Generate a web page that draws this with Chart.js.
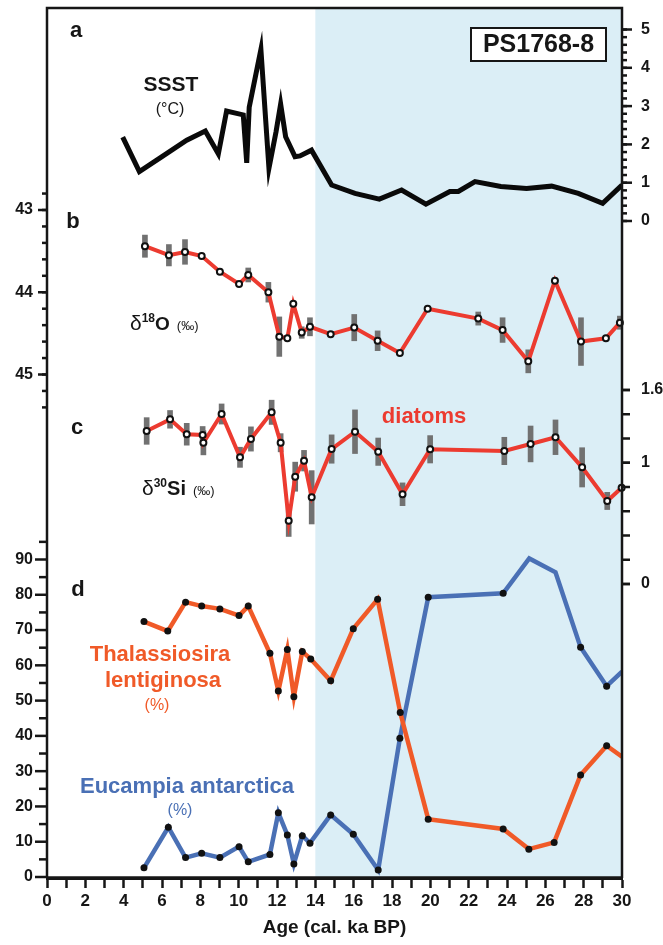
<!DOCTYPE html>
<html>
<head>
<meta charset="utf-8">
<script src="https://cdn.jsdelivr.net/npm/chart.js@4.4.1/dist/chart.umd.min.js"></script>
<style>
html,body{margin:0;padding:0;background:#fff;}
#wrap{width:663px;height:945px;position:relative;}
</style>
</head>
<body>
<div id="wrap"><canvas id="c" width="663" height="945"></canvas></div>
<script>
// ---------------- DATA ----------------
// x axis: Age (cal. ka BP)
const xTickValues = [0,2,4,6,8,10,12,14,16,18,20,22,24,26,28,30];

// a: SSST (°C)
const ssstAge = [3.95,4.82,6.0,7.29,8.26,8.94,9.37,10.24,10.42,10.55,11.16,11.58,11.95,12.19,12.45,12.94,13.2,13.8,14.85,16.07,17.34,18.5,19.77,21.02,21.46,22.33,23.68,25.02,26.33,27.72,28.99,30];
const ssstVal = [2.19,1.29,1.68,2.11,2.35,1.75,2.87,2.77,1.52,2.97,4.48,1.38,2.33,3.05,2.20,1.68,1.70,1.85,0.94,0.72,0.57,0.81,0.44,0.77,0.77,1.03,0.90,0.85,0.91,0.72,0.46,0.94];
const ssstTickLabels = [0,1,2,3,4,5];

// b: δ18O (‰)
const o18Age = [5.11,6.36,7.2,8.07,9.02,10.02,10.5,11.55,12.12,12.54,12.85,13.29,13.72,14.8,16.03,17.25,18.41,19.86,22.5,23.77,25.11,26.5,27.86,29.16,29.89];
const o18Val = [43.44,43.55,43.51,43.56,43.75,43.90,43.79,44.00,44.54,44.56,44.14,44.49,44.42,44.51,44.43,44.59,44.74,44.20,44.32,44.46,44.84,43.86,44.60,44.56,44.37];
const o18Err = [0.135,0.13,0.15,0,0,0,0.085,0.12,0.24,0,0,0.07,0.11,0,0.16,0.12,0,0,0.08,0.15,0.14,0,0.29,0,0.08];
const o18TickLabels = [43,44,45];

// c: δ30Si (‰) diatoms
const si30Age = [5.2,6.42,7.29,8.12,8.16,9.11,10.07,10.64,11.72,12.19,12.61,12.95,13.41,13.81,14.85,16.07,17.28,18.55,19.99,23.86,25.23,26.53,27.92,29.23,29.98];
const si30Val = [1.262,1.358,1.235,1.229,1.165,1.402,1.045,1.196,1.416,1.165,0.522,0.885,1.017,0.715,1.113,1.256,1.091,0.740,1.111,1.097,1.155,1.210,0.962,0.685,0.794];
const si30Err = [0.11,0.073,0.09,0.07,0.1,0.083,0.083,0.1,0.1,0.075,0.13,0.12,0.085,0.22,0.117,0.18,0.113,0.094,0.113,0.113,0.148,0.143,0.162,0.071,0];
const si30TickLabels = [0,1,1.6];

// d: Thalassiosira lentiginosa (%)
const thalAge = [5.06,6.3,7.23,8.07,9.02,10.02,10.5,11.63,12.07,12.54,12.88,13.32,13.76,14.8,15.98,17.25,18.43,19.89,23.8,25.14,26.46,27.84,29.2,30];
const thalVal = [72.4,69.7,77.9,76.8,76.0,74.1,76.8,63.4,52.7,64.5,51.1,63.9,61.8,55.6,70.4,78.7,46.6,16.4,13.6,7.9,9.8,28.9,37.2,34.1];
// d: Eucampia antarctica (%)
const eucAge = [5.06,6.33,7.23,8.07,9.02,10.02,10.5,11.63,12.07,12.54,12.88,13.32,13.72,14.8,15.98,17.28,18.41,19.89,23.8,25.16,26.53,27.84,29.2,30];
const eucVal = [2.6,14.1,5.5,6.7,5.5,8.6,4.3,6.4,18.2,11.9,3.7,11.7,9.6,17.6,12.1,2,39.3,79.3,80.4,90.3,86.4,65.1,54.1,58.2];
const pctTickLabels = [0,10,20,30,40,50,60,70,80,90];

// shaded interval (ka)
const shadeFrom = 14, shadeTo = 30;

// ---------------- STYLE / LAYOUT ----------------
const FONT = '"Liberation Sans", Arial, Helvetica, sans-serif';
const INK = '#161616';
const RED = '#ec3b30';
const THAL = '#f05a28';
const EUC = '#4a70b5';
const GREY = '#717171';
const SHADE = '#dbeef6';
const AREA_TOP = 8, AREA_BOTTOM = 878;

function fitRange(vA, pA, vB, pB) {
  const k = (vB - vA) / (pB - pA);
  const top = vA + (AREA_TOP - pA) * k;
  const bottom = vA + (AREA_BOTTOM - pA) * k;
  return top > bottom ? {min: bottom, max: top, reverse: false} : {min: top, max: bottom, reverse: true};
}
const rSSST = fitRange(0, 221, 5, 29.5);
const rO = fitRange(43, 210, 45, 374.5);
const rSi = fitRange(0, 584, 1.6, 390);
const rD = fitRange(0, 877, 90, 559.5);

function pts(xs, ys) { return xs.map((x, i) => ({x: x, y: ys[i]})); }
function bars(xs, ys, es) {
  const out = [];
  xs.forEach((x, i) => { if (es[i] > 0) out.push({x: x, y: [ys[i] - es[i], ys[i] + es[i]]}); });
  return out;
}
const thalNoMarker = [thalAge.length - 1];
const eucNoMarker = [19, 20, eucAge.length - 1];

const datasets = [
  // markers on top
  {type:'line', label:'δ18O', yAxisID:'yO', data:pts(o18Age,o18Val), showLine:true, borderColor:RED, borderWidth:4,
   pointRadius:3, pointBorderWidth:2, pointBorderColor:'#111', pointBackgroundColor:'#fff', order:1, clip:false},
  {type:'line', label:'δ30Si', yAxisID:'ySi', data:pts(si30Age,si30Val), showLine:true, borderColor:RED, borderWidth:4,
   pointRadius:3, pointBorderWidth:2, pointBorderColor:'#111', pointBackgroundColor:'#fff', order:1, clip:false},
  {type:'line', label:'Thal', yAxisID:'yD', data:pts(thalAge,thalVal), borderColor:THAL, borderWidth:4.5,
   pointRadius:c => thalNoMarker.includes(c.dataIndex) ? 0 : 3.5, pointBorderWidth:0, pointBackgroundColor:'#111', order:1},
  {type:'line', label:'Euc', yAxisID:'yD', data:pts(eucAge,eucVal), borderColor:EUC, borderWidth:4.5,
   pointRadius:c => eucNoMarker.includes(c.dataIndex) ? 0 : 3.5, pointBorderWidth:0, pointBackgroundColor:'#111', order:1},
  {type:'line', label:'SSST', yAxisID:'ySSST', data:pts(ssstAge,ssstVal), borderColor:'#0a0a0a', borderWidth:5,
   pointRadius:0, order:1},
  // error bars beneath
  {type:'bar', label:'δ18O err', yAxisID:'yO', data:bars(o18Age,o18Val,o18Err), backgroundColor:GREY,
   barThickness:5, grouped:false, order:2, borderWidth:0},
  {type:'bar', label:'δ30Si err', yAxisID:'ySi', data:bars(si30Age,si30Val,si30Err), backgroundColor:GREY,
   barThickness:5, grouped:false, order:2, borderWidth:0}
];

const axisSpecs = [
  {id:'ySSST', side:'right', labels:ssstTickLabels, minorFrom:0, minorTo:5, minorStep:0.2, majorLen:10, minorLen:5},
  {id:'yO', side:'left', labels:o18TickLabels, minorFrom:42.8, minorTo:45.4, minorStep:0.2, majorLen:9, minorLen:5},
  {id:'ySi', side:'right', labels:si30TickLabels, minorFrom:0, minorTo:1.6, minorStep:0.2, majorLen:8, minorLen:8},
  {id:'yD', side:'left', labels:pctTickLabels, minorFrom:5, minorTo:95, minorStep:10, majorLen:12, minorLen:8}
];

function runText(ctx, x, baseline, runs) {
  let cx = x;
  runs.forEach(r => {
    ctx.font = r.font;
    ctx.fillStyle = r.color || INK;
    ctx.textAlign = 'left';
    ctx.textBaseline = 'alphabetic';
    cx += (r.gap || 0);
    ctx.fillText(r.t, cx, baseline + (r.dy || 0));
    cx += ctx.measureText(r.t).width;
  });
}
function centerText(ctx, t, x, y, font, color) {
  ctx.font = font; ctx.fillStyle = color || INK;
  ctx.textAlign = 'center'; ctx.textBaseline = 'middle';
  ctx.fillText(t, x, y);
}

const decor = {
  id: 'decor',
  beforeDatasetsDraw(chart) {
    const {ctx, chartArea: a, scales} = chart;
    const x0 = scales.x.getPixelForValue(shadeFrom), x1 = scales.x.getPixelForValue(shadeTo);
    ctx.save();
    ctx.fillStyle = SHADE;
    ctx.fillRect(x0, a.top, x1 - x0, a.bottom - a.top);
    ctx.restore();
  },
  afterDatasetsDraw(chart) {
    const {ctx, chartArea: a, scales} = chart;
    ctx.save();
    // frame
    ctx.strokeStyle = INK;
    ctx.lineWidth = 2.5;
    ctx.beginPath();
    ctx.moveTo(a.left, a.bottom); ctx.lineTo(a.left, a.top); ctx.lineTo(a.right, a.top); ctx.lineTo(a.right, a.bottom);
    ctx.stroke();
    ctx.lineWidth = 3.5;
    ctx.beginPath(); ctx.moveTo(a.left - 1, a.bottom); ctx.lineTo(a.right + 1, a.bottom); ctx.stroke();

    // y axis ticks + labels
    axisSpecs.forEach(s => {
      const sc = scales[s.id];
      const dir = s.side === 'left' ? -1 : 1;
      const xe = s.side === 'left' ? a.left : a.right;
      ctx.strokeStyle = INK; ctx.lineWidth = 2.5;
      const n = Math.round((s.minorTo - s.minorFrom) / s.minorStep);
      for (let i = 0; i <= n; i++) {
        const v = s.minorFrom + i * s.minorStep;
        const y = sc.getPixelForValue(v);
        ctx.beginPath(); ctx.moveTo(xe, y); ctx.lineTo(xe + dir * s.minorLen, y); ctx.stroke();
      }
      s.labels.forEach(v => {
        const y = sc.getPixelForValue(v);
        ctx.beginPath(); ctx.moveTo(xe, y); ctx.lineTo(xe + dir * s.majorLen, y); ctx.stroke();
        ctx.font = 'bold 16px ' + FONT; ctx.fillStyle = INK; ctx.textBaseline = 'middle';
        if (s.side === 'left') { ctx.textAlign = 'right'; ctx.fillText(String(v), a.left - 14, y); }
        else { ctx.textAlign = 'left'; ctx.fillText(String(v), a.right + 19, y); }
      });
    });

    // panel letters
    ['a','b','c','d'].forEach((l, i) => {
      const pos = [[76,31],[73,222],[77,428],[78,590]][i];
      centerText(ctx, l, pos[0], pos[1], 'bold 22px ' + FONT, INK);
    });

    // SSST label
    centerText(ctx, 'SSST', 171, 85, 'bold 21px ' + FONT, INK);
    centerText(ctx, '(°C)', 170, 110, '16px ' + FONT, INK);

    // δ18O label
    runText(ctx, 130, 330, [
      {t:'δ', font:'21px ' + FONT},
      {t:'18', font:'bold 12px ' + FONT, dy:-8},
      {t:'O', font:'bold 19px ' + FONT},
      {t:'(‰)', font:'13px ' + FONT, gap:7}
    ]);
    // δ30Si label
    runText(ctx, 142, 495, [
      {t:'δ', font:'21px ' + FONT},
      {t:'30', font:'bold 12px ' + FONT, dy:-8},
      {t:'Si', font:'bold 20px ' + FONT},
      {t:'(‰)', font:'13px ' + FONT, gap:7}
    ]);
    centerText(ctx, 'diatoms', 424, 417, 'bold 22px ' + FONT, RED);

    // panel d labels
    centerText(ctx, 'Thalassiosira', 160, 655, 'bold 22px ' + FONT, THAL);
    centerText(ctx, 'lentiginosa', 163, 681, 'bold 22px ' + FONT, THAL);
    centerText(ctx, '(%)', 157, 706, '16px ' + FONT, THAL);
    centerText(ctx, 'Eucampia antarctica', 187, 787, 'bold 22px ' + FONT, EUC);
    centerText(ctx, '(%)', 180, 811, '16px ' + FONT, EUC);

    // core label box
    ctx.fillStyle = '#fff';
    ctx.fillRect(471, 28, 135, 33);
    ctx.strokeStyle = INK; ctx.lineWidth = 2;
    ctx.strokeRect(471, 28, 135, 33);
    centerText(ctx, 'PS1768-8', 538.5, 45, 'bold 25px ' + FONT, INK);
    ctx.restore();
  }
};

const cfg = {
  type: 'line',
  data: { datasets: datasets },
  options: {
    responsive: false,
    animation: false,
    devicePixelRatio: 1,
    layout: { padding: { left: 47, right: 41, top: AREA_TOP, bottom: 0 } },
    plugins: { legend: { display: false }, tooltip: { enabled: false } },
    elements: { line: { tension: 0, borderJoinStyle: 'miter', borderCapStyle: 'butt' } },
    scales: {
      x: {
        type: 'linear', min: 0, max: 30, offset: false,
        afterFit: s => { s.height = 945 - AREA_BOTTOM; },
        afterBuildTicks: s => { s.ticks = Array.from({length: 31}, (_, i) => ({value: i})); },
        ticks: {
          autoSkip: false, maxRotation: 0, padding: 3,
          callback: v => (xTickValues.includes(v) ? String(v) : ''),
          font: { family: FONT, size: 17, weight: 'bold' }, color: INK
        },
        grid: { drawOnChartArea: false, drawTicks: true, tickLength: 10, tickWidth: 2.5, tickColor: INK, color: INK, offset: false },
        border: { display: true, width: 3, color: INK },
        title: { display: true, text: 'Age (cal. ka BP)', font: { family: FONT, size: 19, weight: 'bold' }, color: INK, padding: { top: 0, bottom: 6 } }
      },
      ySSST: { type: 'linear', position: 'right', display: false, min: rSSST.min, max: rSSST.max, reverse: rSSST.reverse },
      yO: { type: 'linear', position: 'left', display: false, min: rO.min, max: rO.max, reverse: rO.reverse },
      ySi: { type: 'linear', position: 'right', display: false, min: rSi.min, max: rSi.max, reverse: rSi.reverse },
      yD: { type: 'linear', position: 'left', display: false, min: rD.min, max: rD.max, reverse: rD.reverse }
    }
  },
  plugins: [decor]
};
new Chart(document.getElementById('c'), cfg);
</script>
</body>
</html>
